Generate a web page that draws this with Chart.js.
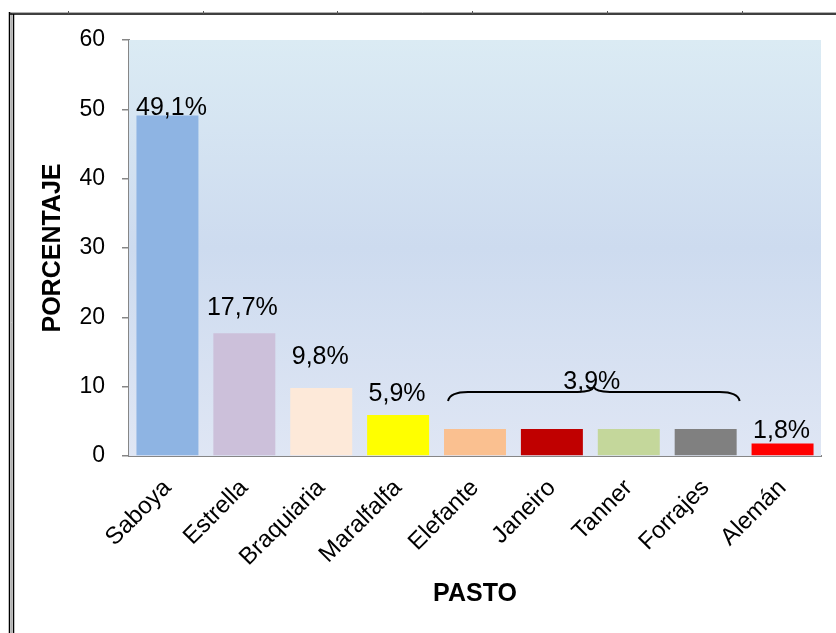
<!DOCTYPE html>
<html>
<head>
<meta charset="utf-8">
<script src="https://cdn.jsdelivr.net/npm/chart.js@4.4.0/dist/chart.umd.min.js"></script>
<style>
  html, body { margin: 0; padding: 0; background: #fff; }
  #wrap { width: 836px; height: 633px; }
</style>
</head>
<body>
<div id="wrap"><canvas id="barChart" width="836" height="633"></canvas></div>
<script>
// datos del grafico
var pastos = ['Saboya', 'Estrella', 'Braquiaria', 'Maralfalfa', 'Elefante', 'Janeiro', 'Tanner', 'Forrajes', 'Alemán'];
var porcentajes = [49.1, 17.7, 9.8, 5.9, 3.9, 3.9, 3.9, 3.9, 1.8];
var etiquetas = ['49,1%', '17,7%', '9,8%', '5,9%', '', '', '', '', '1,8%'];
var colores = ['#8EB4E3', '#CCC0DA', '#FDE9D9', '#FFFF00', '#FAC090', '#C00000', '#C4D79B', '#808080', '#FF0000'];
var grupoDesde = 4, grupoHasta = 7;
var grupoTexto = '3,9%';

// ajustes de estilo de las etiquetas (pixeles)
var subirEtiqueta = [1, 18, 24, 14, 0, 0, 0, 0, 6];
var correrEtiqueta = [4, -2, -1, -1, 0, 0, 0, 0, -1];

var fuente = "'Liberation Sans', Arial, sans-serif";
Chart.defaults.font.family = fuente;
Chart.defaults.color = '#000';

var fondoPlugin = {
  id: 'fondo',
  beforeDatasetsDraw: function(chart) {
    var ctx = chart.ctx, a = chart.chartArea;
    var g = ctx.createLinearGradient(0, a.top, 0, a.bottom);
    g.addColorStop(0, '#DBEBF4');
    g.addColorStop(0.5, '#CDDBEF');
    g.addColorStop(1, '#DFE6F4');
    ctx.save();
    ctx.fillStyle = g;
    ctx.fillRect(a.left, a.top, a.right - a.left, a.bottom - a.top);
    ctx.restore();
  }
};

var etiquetasPlugin = {
  id: 'etiquetas',
  afterDatasetsDraw: function(chart) {
    var ctx = chart.ctx;
    var meta = chart.getDatasetMeta(0);
    ctx.save();
    ctx.font = '25px ' + fuente;
    ctx.fillStyle = '#000';
    ctx.textAlign = 'center';
    ctx.textBaseline = 'alphabetic';
    meta.data.forEach(function(bar, i) {
      if (!etiquetas[i]) return;
      ctx.fillText(etiquetas[i], bar.x + correrEtiqueta[i], bar.y - subirEtiqueta[i]);
    });

    // llave sobre el grupo de 3,9%
    var b0 = meta.data[grupoDesde], b1 = meta.data[grupoHasta];
    var x0 = b0.x - b0.width / 2 + 4;
    var x1 = b1.x + b1.width / 2 + 3;
    var tope = chart.scales.y.getPixelForValue(porcentajes[grupoDesde]);
    var yPunta = tope - 28, yLinea = tope - 37, yPico = tope - 42;
    var xm = (x0 + x1) / 2;
    ctx.beginPath();
    ctx.moveTo(x0, yPunta);
    ctx.quadraticCurveTo(x0 + 2, yLinea, x0 + 20, yLinea);
    ctx.lineTo(xm - 16, yLinea);
    ctx.quadraticCurveTo(xm - 2, yLinea, xm, yPico);
    ctx.quadraticCurveTo(xm + 2, yLinea, xm + 16, yLinea);
    ctx.lineTo(x1 - 20, yLinea);
    ctx.quadraticCurveTo(x1 - 2, yLinea, x1, yPunta);
    ctx.lineWidth = 2;
    ctx.strokeStyle = '#000';
    ctx.stroke();
    ctx.fillText(grupoTexto, xm - 2, yPico + 2);
    ctx.restore();
  }
};

var marcoPlugin = {
  id: 'marco',
  afterDraw: function(chart) {
    var ctx = chart.ctx;
    ctx.save();
    ctx.strokeStyle = '#B0B0B0';
    ctx.lineWidth = 1;
    ctx.beginPath();
    ctx.moveTo(9, 12.5); ctx.lineTo(836, 12.5);
    ctx.moveTo(11.5, 12); ctx.lineTo(11.5, 633);
    ctx.stroke();
    ctx.strokeStyle = '#000';
    ctx.lineWidth = 1.5;
    ctx.beginPath();
    ctx.moveTo(9, 14); ctx.lineTo(836, 14);
    ctx.moveTo(9.5, 12); ctx.lineTo(9.5, 633);
    ctx.moveTo(13.5, 14); ctx.lineTo(13.5, 633);
    ctx.stroke();
    ctx.lineWidth = 1;
    ctx.strokeStyle = '#555';
    ctx.beginPath();
    [68, 203, 337, 472, 607, 742].forEach(function(x) {
      ctx.moveTo(x + 0.5, 11); ctx.lineTo(x + 0.5, 14);
    });
    ctx.stroke();
    ctx.restore();
  }
};

var ctxBar = document.getElementById('barChart');
new Chart(ctxBar, {
  type: 'bar',
  data: {
    labels: pastos,
    datasets: [{
      data: porcentajes,
      backgroundColor: colores,
      borderWidth: 0,
      barPercentage: 0.806,
      categoryPercentage: 1.0
    }]
  },
  options: {
    responsive: false,
    animation: false,
    layout: { padding: { left: 14, right: 15, top: 40, bottom: 0 } },
    plugins: {
      legend: { display: false },
      tooltip: { enabled: false }
    },
    scales: {
      x: {
        grid: { display: true, drawOnChartArea: false, drawTicks: false },
        border: { display: true, color: '#868686', width: 2 },
        ticks: {
          font: { size: 24 },
          color: '#000',
          minRotation: 45,
          maxRotation: 45,
          autoSkip: false,
          padding: 18
        },
        title: {
          display: true,
          text: 'PASTO',
          font: { size: 25, weight: 'bold' },
          color: '#000',
          padding: { top: 0, bottom: 24 }
        },
        afterFit: function(scale) { scale.height = 177; }
      },
      y: {
        min: 0,
        max: 60,
        grid: { display: true, drawOnChartArea: false, drawTicks: true, tickLength: 7, color: '#868686', lineWidth: 1.5 },
        border: { display: true, color: '#868686', width: 2 },
        ticks: {
          stepSize: 10,
          font: { size: 23 },
          color: '#000',
          padding: 17
        },
        title: {
          display: true,
          text: 'PORCENTAJE',
          font: { size: 25, weight: 'bold' },
          color: '#000',
          padding: { top: 24, bottom: 0 }
        },
        afterFit: function(scale) { scale.width = 115; }
      }
    }
  },
  plugins: [fondoPlugin, etiquetasPlugin, marcoPlugin]
});
</script>
</body>
</html>
